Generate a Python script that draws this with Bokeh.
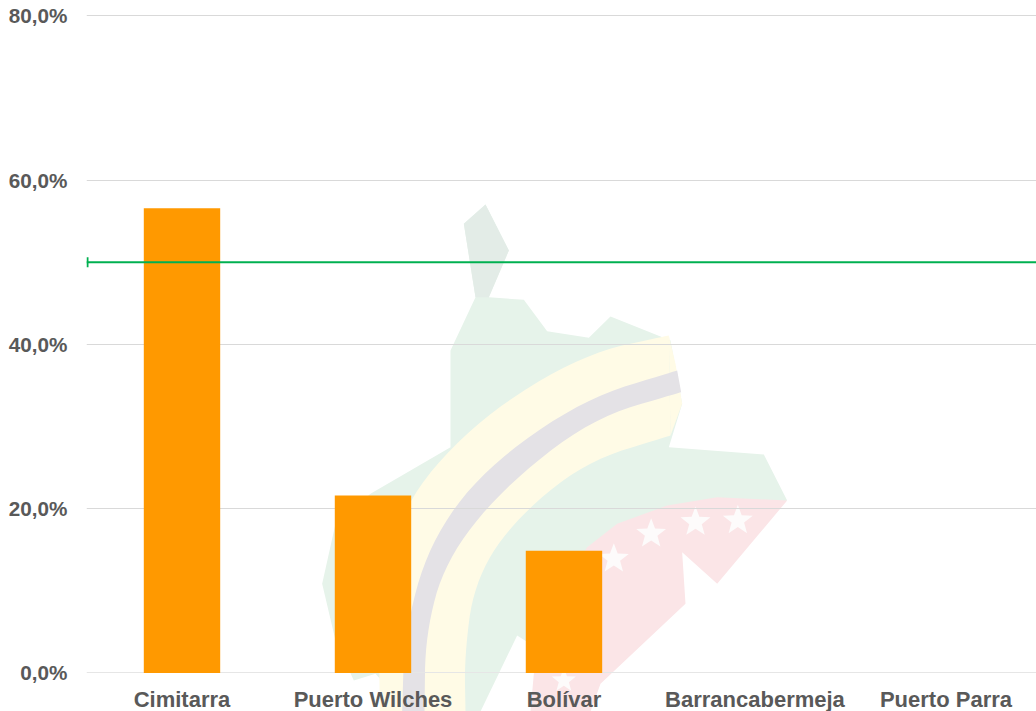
import math
from bokeh.plotting import figure
from bokeh.models import Range1d, FixedTicker, PolyAnnotation, Grid
from bokeh.embed import file_html
from bokeh.resources import INLINE

# ---- data ----
categories = ["Cimitarra", "Puerto Wilches", "Bolívar", "Barrancabermeja", "Puerto Parra"]
values = [56.6, 21.6, 14.9, 0.0, 0.0]
target = 50.0
y_ticks = [0, 20, 40, 60, 80]
y_tick_labels = ["0,0%", "20,0%", "40,0%", "60,0%", "80,0%"]

positions = list(range(len(categories)))
x_lo, x_hi = -0.5, 4.474

p = figure(width=1036, height=711, output_backend="svg", toolbar_location=None,
           x_range=Range1d(x_lo, x_hi), y_range=Range1d(-4.688, 81.887),
           min_border_left=86, min_border_right=0, min_border_top=0, min_border_bottom=0,
           outline_line_color=None, background_fill_color=None)

# ---- decorative background logo, in zoomed-crop pixels of the picture ----
def canvas_pts(pts):
    return [x / 3 + 300 for x, _ in pts], [y / 3 + 190 for _, y in pts]

def logo(pts, color):
    xs, ys = canvas_pts(pts)
    p.add_layout(PolyAnnotation(xs=xs, ys=ys, xs_units="canvas", ys_units="canvas",
                                fill_color=color, fill_alpha=1, line_alpha=0, level="image"))

def smooth(pts, rounds=3):
    for _ in range(rounds):
        out = [pts[0]]
        for a, b in zip(pts[:-1], pts[1:]):
            out.append((0.75 * a[0] + 0.25 * b[0], 0.75 * a[1] + 0.25 * b[1]))
            out.append((0.25 * a[0] + 0.75 * b[0], 0.25 * a[1] + 0.75 * b[1]))
        out.append(pts[-1])
        pts = out
    return pts

def band(outer, inner, color):
    logo(smooth(outer) + smooth(inner)[::-1], color)

def star(cx, cy, r, color="#fdfbfb"):
    pts = []
    for i in range(10):
        a = -math.pi / 2 + i * math.pi / 5
        rr = r if i % 2 == 0 else r * 0.42
        pts.append((cx + rr * math.cos(a), cy + rr * math.sin(a)))
    logo(pts, color)

logo([(555, 42), (490, 100), (525, 320), (450, 480), (450, 770), (210, 910), (105, 1000),
      (65, 1180), (105, 1350), (160, 1470), (225, 1450), (270, 1500), (290, 1563),
      (540, 1563), (650, 1335), (720, 1380), (1000, 1100), (1460, 930), (1390, 792),
      (1105, 770), (1145, 640), (1110, 450), (930, 378), (865, 442), (740, 422),
      (670, 328), (565, 320), (625, 180)], "#e6f3ea")
logo([(555, 42), (490, 100), (525, 320), (565, 320), (625, 180)], "#e3ece7")
logo([(860, 1070), (950, 1000), (1100, 945), (1250, 920), (1460, 930), (1250, 1180),
      (1145, 1085), (1155, 1240), (900, 1480), (870, 1563), (690, 1563), (700, 1450),
      (720, 1300)], "#fbe5e7")
band([(1105, 435), (850, 490), (540, 680), (320, 920), (255, 1150), (235, 1350), (238, 1563)],
     [(1110, 735), (850, 815), (630, 1000), (520, 1180), (492, 1400), (495, 1563)], "#fffbe6")
logo([(1105, 435), (1125, 520), (1145, 640), (1110, 735)], "#fffbe6")
band([(1130, 540), (850, 625), (550, 835), (385, 1060), (312, 1330), (305, 1563)],
     [(1142, 605), (870, 685), (600, 900), (435, 1110), (375, 1330), (372, 1563)], "#e4e2e6")
for cx, cy, r in [(940, 1105, 47), (1052, 1030, 47), (1185, 995, 47), (1312, 990, 47), (790, 1470, 38)]:
    star(cx, cy, r)

# ---- marks ----
p.vbar(x=positions, top=values, width=0.4, bottom=0, fill_color="#ff9900", line_color=None)
p.line(x=[x_lo, x_hi], y=[target, target], line_color="#00b050", line_width=2)
p.scatter(x=[x_lo + 1 / 191], y=[target], marker="dash", angle=math.pi / 2, size=10,
          line_color="#00b050", line_width=2, fill_color=None)

# ---- axes ----
xa, ya = p.xaxis[0], p.yaxis[0]
xa.ticker = FixedTicker(ticks=positions)
xa.fixed_location = 0
xa.major_label_overrides = {i: c for i, c in zip(positions, categories)}
ya.ticker = FixedTicker(ticks=y_ticks)
ya.major_label_overrides = {t: s for t, s in zip(y_ticks, y_tick_labels)}
for ax in (xa, ya):
    ax.axis_line_color = None
    ax.major_tick_line_color = None
    ax.minor_tick_line_color = None
    ax.major_tick_out = 0
    ax.major_tick_in = 0
    ax.major_label_text_font = "Liberation Sans"
    ax.major_label_text_font_style = "bold"
    ax.major_label_text_color = "#595959"
xa.major_label_text_font_size = "22px"
ya.major_label_text_font_size = "20.7px"
xa.major_label_standoff = 14
ya.major_label_standoff = 19

p.xgrid.grid_line_color = None
p.ygrid.ticker = FixedTicker(ticks=y_ticks[1:])
p.ygrid.grid_line_color = "#d9d9d9"
p.ygrid.grid_line_width = 1
p.add_layout(Grid(dimension=1, ticker=FixedTicker(ticks=y_ticks[:1]), grid_line_color="#e6e6e6"))

open("out.html", "w").write(file_html(p, INLINE))
